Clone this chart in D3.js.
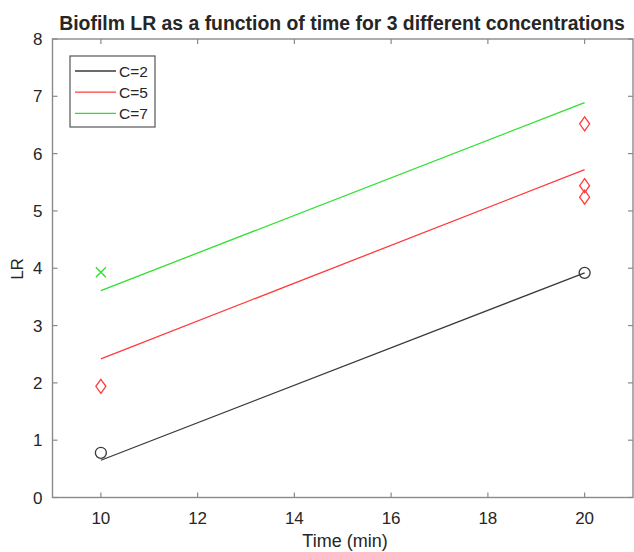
<!DOCTYPE html>
<meta charset="utf-8">
<script src="https://d3js.org/d3.v7.min.js"></script>
<style>
  body { margin: 0; background: #fff; }
  text { font-family: "Liberation Sans", Arial, sans-serif; fill: #262626; }
</style>
<div id="chart"></div>
<script>
  // measured points (time in min, LR)
  var timesC2 = [10, 20]
  var lrC2 = [0.78, 3.92]
  var timesC5 = [10, 20, 20, 20]
  var lrC5 = [1.94, 6.52, 5.44, 5.24]
  var timesC7 = [10]
  var lrC7 = [3.93]

  // fitted lines (endpoints at t=10 and t=20)
  var fitTimes = [10, 20]
  var fitC2 = [0.65, 3.92]
  var fitC5 = [2.42, 5.72]
  var fitC7 = [3.61, 6.89]

  var xTicks = [10, 12, 14, 16, 18, 20]
  var yTicks = [0, 1, 2, 3, 4, 5, 6, 7, 8]
  var labels = ["C=2", "C=5", "C=7"]
  var colors = ["#3a3a3a", "#ff3b3b", "#2de02d"]

  var width = 634, height = 552
  // plot box edges (note: "top" is reserved on window, so use pl/pr/pt/pb)
  var pl = 52.5, pr = 633, pt = 39, pb = 497.5

  var svg = d3.select("#chart").append("svg")
    .attr("width", width)
    .attr("height", height)

  var x = d3.scaleLinear().domain([9, 21]).range([pl, pr])
  var y = d3.scaleLinear().domain([0, 8]).range([pb, pt])

  var axisColor = "#8a8a8a"

  // box
  svg.append("rect")
    .attr("x", pl).attr("y", pt)
    .attr("width", pr - pl).attr("height", pb - pt)
    .attr("fill", "none").attr("stroke", axisColor).attr("stroke-width", 1.4)

  // ticks (inward, on all four sides)
  var tl = 5
  xTicks.forEach(function (t) {
    svg.append("line").attr("x1", x(t)).attr("x2", x(t)).attr("y1", pb).attr("y2", pb - tl)
      .attr("stroke", axisColor).attr("stroke-width", 1.2)
    svg.append("line").attr("x1", x(t)).attr("x2", x(t)).attr("y1", pt).attr("y2", pt + tl)
      .attr("stroke", axisColor).attr("stroke-width", 1.2)
    svg.append("text").attr("x", x(t)).attr("y", pb + 26.5)
      .attr("text-anchor", "middle").style("font-size", "17px").text(t)
  })
  yTicks.forEach(function (t) {
    svg.append("line").attr("x1", pl).attr("x2", pl + tl).attr("y1", y(t)).attr("y2", y(t))
      .attr("stroke", axisColor).attr("stroke-width", 1.2)
    svg.append("line").attr("x1", pr).attr("x2", pr - tl).attr("y1", y(t)).attr("y2", y(t))
      .attr("stroke", axisColor).attr("stroke-width", 1.2)
    svg.append("text").attr("x", pl - 10).attr("y", y(t) + 6)
      .attr("text-anchor", "end").style("font-size", "17px").text(t)
  })

  // title and axis labels
  svg.append("text").attr("x", 342).attr("y", 30)
    .attr("text-anchor", "middle").style("font-size", "19.4px").style("font-weight", "bold")
    .text("Biofilm LR as a function of time for 3 different concentrations")
  svg.append("text").attr("x", 345).attr("y", 547)
    .attr("text-anchor", "middle").style("font-size", "18px").text("Time (min)")
  svg.append("text").attr("transform", "translate(23," + 269 + ") rotate(-90)")
    .attr("text-anchor", "middle").style("font-size", "17px").text("LR")

  // fit lines
  var line = d3.line().x(function (d) { return x(d[0]) }).y(function (d) { return y(d[1]) })
  var fits = [fitC2, fitC5, fitC7]
  fits.forEach(function (f, i) {
    svg.append("path")
      .attr("d", line(d3.zip(fitTimes, f)))
      .attr("fill", "none").attr("stroke", colors[i]).attr("stroke-width", 1.3)
  })

  // markers
  svg.selectAll("circ").data(d3.zip(timesC2, lrC2)).enter().append("circle")
    .attr("cx", function (d) { return x(d[0]) }).attr("cy", function (d) { return y(d[1]) })
    .attr("r", 5.5).attr("fill", "none").attr("stroke", colors[0]).attr("stroke-width", 1.3)

  svg.selectAll("diam").data(d3.zip(timesC5, lrC5)).enter().append("path")
    .attr("d", "M0,-7L5,0L0,7L-5,0Z")
    .attr("transform", function (d) { return "translate(" + x(d[0]) + "," + y(d[1]) + ")" })
    .attr("fill", "none").attr("stroke", colors[1]).attr("stroke-width", 1.3)

  svg.selectAll("cross").data(d3.zip(timesC7, lrC7)).enter().append("path")
    .attr("d", "M-5,-5L5,5M-5,5L5,-5")
    .attr("transform", function (d) { return "translate(" + x(d[0]) + "," + y(d[1]) + ")" })
    .attr("fill", "none").attr("stroke", colors[2]).attr("stroke-width", 1.3)

  // legend
  var lg = svg.append("g").attr("transform", "translate(70,56)")
  lg.append("rect").attr("width", 85).attr("height", 71)
    .attr("fill", "#fff").attr("stroke", "#555").attr("stroke-width", 1.2)
  labels.forEach(function (l, i) {
    var ly = 15 + i * 21.2
    lg.append("line").attr("x1", 5).attr("x2", 46).attr("y1", ly).attr("y2", ly)
      .attr("stroke", colors[i]).attr("stroke-width", 1.3)
    lg.append("text").attr("x", 49).attr("y", ly + 5.5).style("font-size", "15.5px").text(l)
  })
</script>
